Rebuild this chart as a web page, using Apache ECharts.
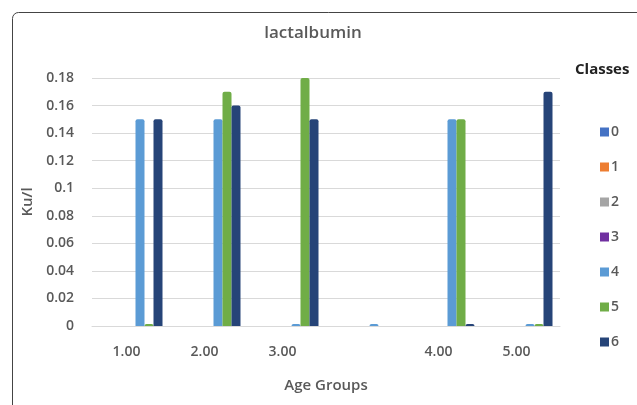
<!DOCTYPE html>
<html><head><meta charset="utf-8">
<script src="https://cdn.jsdelivr.net/npm/echarts@6/dist/echarts.min.js"></script>
<style>html,body{margin:0;padding:0;background:#fff}#c{width:637px;height:405px}</style>
</head><body><div id="c"></div>
<script>
const categories = ['1.00', '2.00', '3.00', '', '4.00', '5.00'];
const classNames = ['0', '1', '2', '3', '4', '5', '6'];
const class0 = [null, null, null, null, null, null];
const class1 = [null, null, null, null, null, null];
const class2 = [null, null, null, null, null, null];
const class3 = [null, null, null, null, null, null];
const class4 = [0.15, 0.15, 0, 0, 0.15, 0];
const class5 = [0, 0.17, 0.18, null, 0.15, 0];
const class6 = [0.15, 0.16, 0.15, null, 0, 0.17];
const yTicks = [0, 0.02, 0.04, 0.06, 0.08, 0.1, 0.12, 0.14, 0.16, 0.18];
const colors = ['#4472C4', '#ED7D31', '#A5A5A5', '#7030A0', '#5B9BD5', '#70AD47', '#264478'];
const allData = [class0, class1, class2, class3, class4, class5, class6];

const chart = echarts.init(document.getElementById('c'));
const font = '"Open Sans", "Liberation Sans", sans-serif';
chart.setOption({
  animation: false,
  graphic: [{
    type: 'rect', left: 10, top: 10,
    shape: { width: 640, height: 400, r: 6 },
    style: { fill: 'none', stroke: '#444', lineWidth: 1 }
  }, {
    type: 'text', left: 575, top: 62,
    style: { text: 'Classes', font: 'bold 15px ' + font, fill: '#222' }
  }],
  title: {
    text: 'lactalbumin', left: 308, top: 20, textAlign: 'center',
    textStyle: { fontFamily: font, fontSize: 17, fontWeight: 600, color: '#595959' }
  },
  legend: {
    orient: 'vertical', left: 595, top: 120, itemGap: 21,
    itemWidth: 9, itemHeight: 9, icon: 'rect',
    data: classNames,
    textStyle: { fontFamily: font, fontSize: 14, fontWeight: 600, color: '#595959', padding: [0, 0, 0, -3] }
  },
  grid: { left: 92, right: 77, top: 78, bottom: 79 },
  xAxis: {
    type: 'category', data: categories,
    name: 'Age Groups', nameLocation: 'middle', nameGap: 52,
    nameTextStyle: { fontFamily: font, fontSize: 15, fontWeight: 600, color: '#595959' },
    axisLine: { lineStyle: { color: '#D9D9D9' } },
    axisTick: { show: false },
    axisLabel: { fontFamily: font, fontSize: 14, fontWeight: 600, color: '#595959', margin: 19, padding: [0, 9, 0, 0] }
  },
  yAxis: {
    type: 'value', min: 0, max: 0.18, interval: 0.02,
    name: 'Ku/l', nameLocation: 'middle', nameGap: 54, nameRotate: 90,
    nameTextStyle: { fontFamily: font, fontSize: 15, fontWeight: 600, color: '#595959' },
    axisLine: { show: false }, axisTick: { show: false },
    splitLine: { lineStyle: { color: '#D9D9D9' } },
    axisLabel: {
      fontFamily: font, fontSize: 14, fontWeight: 600, color: '#595959', margin: 18,
      formatter: v => { const i = yTicks.findIndex(t => Math.abs(t - v) < 1e-9); return i >= 0 ? String(yTicks[i]) : ''; }
    }
  },
  series: allData.map((d, i) => ({
    name: classNames[i], type: 'bar', data: d,
    barWidth: 9, barGap: '0%', barMinHeight: 2,
    itemStyle: { color: colors[i], borderRadius: [2, 2, 0, 0] }
  }))
});
</script></body></html>
